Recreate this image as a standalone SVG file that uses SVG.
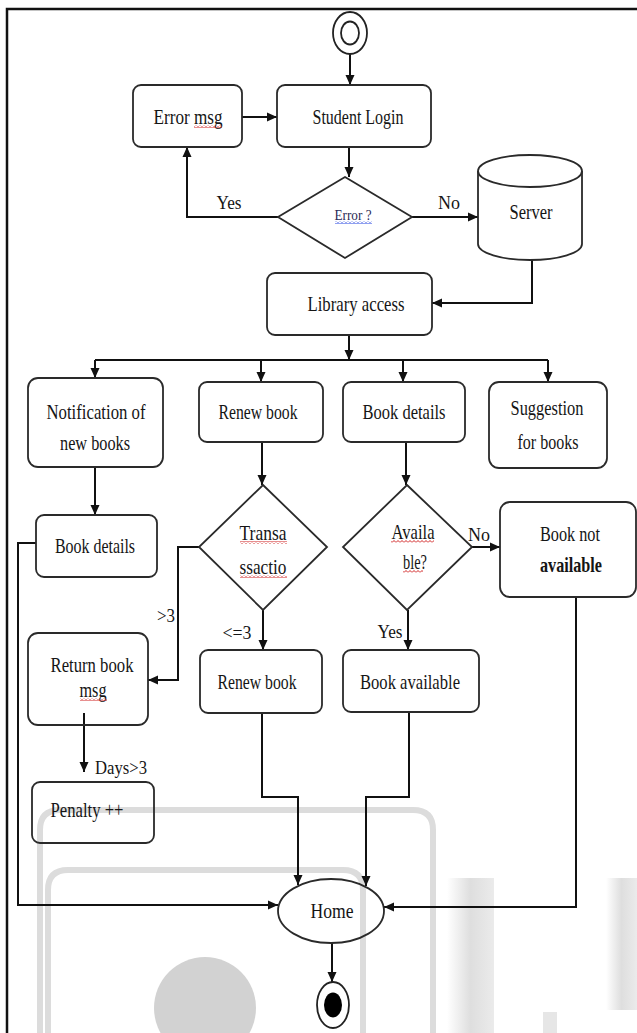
<svg xmlns="http://www.w3.org/2000/svg" width="637" height="1033" viewBox="0 0 637 1033">
<style>
.box{fill:none;stroke:#2a2a2a;stroke-width:1.8}
.c{fill:none;stroke:#111;stroke-width:2}
.ca{fill:none;stroke:#111;stroke-width:2;marker-end:url(#ah)}
.t{font-family:"Liberation Serif","Times New Roman",serif;font-size:22px;fill:#151515;text-anchor:middle}
.s{font-family:"Liberation Serif","Times New Roman",serif;font-size:19px;fill:#151515;text-anchor:middle}
.wm{fill:none;stroke:#dcdcdc;stroke-width:6}
</style>
<defs>
<marker id="ah" markerUnits="userSpaceOnUse" markerWidth="10" markerHeight="10" refX="10" refY="5" orient="auto">
<path d="M0,0.5 L10,5 L0,9.5 z" fill="#111"/>
</marker>
<pattern id="sqr" width="4" height="3" patternUnits="userSpaceOnUse">
<path d="M0,2.5 L2,0.5 L4,2.5" fill="none" stroke="#d02020" stroke-width="1"/>
</pattern>
<pattern id="sqb" width="4" height="3" patternUnits="userSpaceOnUse">
<path d="M0,2.5 L2,0.5 L4,2.5" fill="none" stroke="#2040e0" stroke-width="1"/>
</pattern>
<linearGradient id="gv" x1="0" y1="0" x2="1" y2="0">
<stop offset="0" stop-color="#ffffff"/>
<stop offset="0.5" stop-color="#dedede"/>
<stop offset="1" stop-color="#ebebeb"/>
</linearGradient>
</defs>
<rect width="637" height="1033" fill="#fff"/>
<g id="watermark">
<path class="wm" d="M40,1033 V830 Q40,810 60,810 H413 Q433,810 433,830 V1033"/>
<path class="wm" d="M48,1033 V890 Q48,870 68,870 H343 Q363,870 363,890 V1033"/>
<circle cx="205" cy="1008" r="51" fill="#d2d2d2"/>
<rect x="447" y="878" width="47" height="155" fill="url(#gv)"/>
<rect x="606" y="878" width="31" height="132" fill="url(#gv)"/>
<rect x="543" y="1012" width="14" height="21" fill="#e6e6e6"/>
</g>
<g id="frame">
<path d="M7,1033 V9 H637" fill="none" stroke="#111" stroke-width="2.5"/>
</g>
<g id="connectors">
<path class="ca" d="M350,54 V85"/>
<path class="ca" d="M242,117 H277"/>
<path class="ca" d="M349,147 V177"/>
<path class="ca" d="M278,217 H187 V147"/>
<path class="ca" d="M412,217 H478"/>
<path class="ca" d="M532,260 V303 H432"/>
<path class="ca" d="M349,335 V360"/>
<path class="c" d="M95,360 H548"/>
<path class="ca" d="M95,360 V378"/>
<path class="ca" d="M261,360 V382"/>
<path class="ca" d="M403,360 V382"/>
<path class="ca" d="M548,360 V382"/>
<path class="ca" d="M95,467 V515"/>
<path class="ca" d="M262,442 V485"/>
<path class="ca" d="M406,442 V485"/>
<path class="ca" d="M199,547 H178 V680 H148"/>
<path class="ca" d="M263,610 V650"/>
<path class="ca" d="M84,713 V772"/>
<path class="ca" d="M472,547 H500"/>
<path class="ca" d="M408,610 V650"/>
<path class="ca" d="M36,543 H18 V905 H278"/>
<path class="ca" d="M262,713 V797 H298 V885"/>
<path class="ca" d="M409,712 V797 H366 V886"/>
<path class="ca" d="M576,597 V907 H384"/>
<path class="ca" d="M332,943 V982"/>
<text class="s" x="229" y="209" textLength="25" lengthAdjust="spacingAndGlyphs">Yes</text>
<text class="s" x="449" y="209" textLength="22" lengthAdjust="spacingAndGlyphs">No</text>
<text class="s" x="166" y="622" textLength="18" lengthAdjust="spacingAndGlyphs">&gt;3</text>
<text class="s" x="237" y="639" textLength="29" lengthAdjust="spacingAndGlyphs">&lt;=3</text>
<text class="s" x="121" y="774" textLength="52" lengthAdjust="spacingAndGlyphs">Days&gt;3</text>
<text class="s" x="390" y="638" textLength="25" lengthAdjust="spacingAndGlyphs">Yes</text>
<text class="s" x="479" y="541" textLength="22" lengthAdjust="spacingAndGlyphs">No</text>
</g>
<g id="start">
<ellipse cx="350" cy="33" rx="17" ry="21" fill="#fff" stroke="#222" stroke-width="1.8"/>
<ellipse cx="350" cy="33" rx="9" ry="11.5" fill="none" stroke="#222" stroke-width="1.8"/>
</g>
<g id="errmsg">
<rect class="box" x="133" y="85" width="109" height="62" rx="8"/>
<text class="t" x="188" y="124" textLength="69" lengthAdjust="spacingAndGlyphs">Error msg</text>
<rect x="194" y="125" width="28" height="3" fill="url(#sqr)"/>
</g>
<g id="login">
<rect class="box" x="277" y="85" width="154" height="62" rx="8"/>
<text class="t" x="358" y="124" textLength="91" lengthAdjust="spacingAndGlyphs">Student Login</text>
</g>
<g id="errdec">
<path class="box" d="M345,177 L412,217 L345,258 L278,217 Z"/>
<text x="353" y="220" font-family="Liberation Serif, serif" font-size="14" fill="#2a2a55" text-anchor="middle" textLength="37" lengthAdjust="spacingAndGlyphs">Error ?</text>
<rect x="335" y="221" width="37" height="3" fill="url(#sqb)"/>
</g>
<g id="server">
<path class="box" d="M478,171 A52,16 0 0,1 582,171 V244 A52,16 0 0,1 478,244 Z"/>
<path class="box" d="M478,171 A52,16 0 0,0 582,171"/>
<text class="t" x="531" y="219" textLength="43" lengthAdjust="spacingAndGlyphs">Server</text>
</g>
<g id="library">
<rect class="box" x="267" y="273" width="165" height="62" rx="8"/>
<text class="t" x="356" y="311" textLength="97" lengthAdjust="spacingAndGlyphs">Library access</text>
</g>
<g id="notif">
<rect class="box" x="28" y="378" width="135" height="89" rx="10"/>
<text class="t" x="96" y="419" textLength="99" lengthAdjust="spacingAndGlyphs">Notification of</text>
<text class="t" x="95" y="450" textLength="70" lengthAdjust="spacingAndGlyphs">new books</text>
</g>
<g id="renew1">
<rect class="box" x="199" y="382" width="124" height="60" rx="8"/>
<text class="t" x="258" y="419" textLength="79" lengthAdjust="spacingAndGlyphs">Renew book</text>
</g>
<g id="details1">
<rect class="box" x="343" y="382" width="122" height="60" rx="8"/>
<text class="t" x="404" y="419" textLength="83" lengthAdjust="spacingAndGlyphs">Book details</text>
</g>
<g id="suggest">
<rect class="box" x="489" y="382" width="118" height="86" rx="10"/>
<text class="t" x="547" y="415" textLength="73" lengthAdjust="spacingAndGlyphs">Suggestion</text>
<text class="t" x="548" y="449" textLength="61" lengthAdjust="spacingAndGlyphs">for books</text>
</g>
<g id="details2">
<rect class="box" x="36" y="515" width="121" height="62" rx="8"/>
<text class="t" x="95" y="553" textLength="80" lengthAdjust="spacingAndGlyphs">Book details</text>
</g>
<g id="trans">
<path class="box" d="M263,485 L327,547 L263,610 L199,547 Z"/>
<text class="t" x="263" y="540" textLength="47" lengthAdjust="spacingAndGlyphs">Transa</text>
<rect x="240" y="541" width="47" height="3" fill="url(#sqr)"/>
<text class="t" x="263" y="574" textLength="47" lengthAdjust="spacingAndGlyphs">ssactio</text>
<rect x="240" y="575" width="47" height="3" fill="url(#sqr)"/>
</g>
<g id="avail">
<path class="box" d="M407,485 L472,547 L407,610 L343,547 Z"/>
<text class="t" x="413" y="539" textLength="43" lengthAdjust="spacingAndGlyphs">Availa</text>
<rect x="391" y="540" width="43" height="3" fill="url(#sqr)"/>
<text class="t" x="415" y="569" textLength="24" lengthAdjust="spacingAndGlyphs">ble?</text>
<rect x="403" y="570" width="20" height="3" fill="url(#sqr)"/>
</g>
<g id="notavail">
<rect class="box" x="500" y="502" width="136" height="95" rx="10"/>
<text class="t" x="570" y="541" textLength="60" lengthAdjust="spacingAndGlyphs">Book not</text>
<text class="t" x="571" y="572" font-weight="bold" textLength="62" lengthAdjust="spacingAndGlyphs">available</text>
</g>
<g id="returnmsg">
<rect class="box" x="28" y="633" width="120" height="92" rx="10"/>
<text class="t" x="92" y="672" textLength="83" lengthAdjust="spacingAndGlyphs">Return book</text>
<text class="t" x="93" y="697" textLength="27" lengthAdjust="spacingAndGlyphs">msg</text>
<rect x="80" y="698" width="27" height="3" fill="url(#sqr)"/>
</g>
<g id="renew2">
<rect class="box" x="200" y="650" width="122" height="63" rx="8"/>
<text class="t" x="257" y="689" textLength="79" lengthAdjust="spacingAndGlyphs">Renew book</text>
</g>
<g id="bookavail">
<rect class="box" x="343" y="650" width="136" height="62" rx="8"/>
<text class="t" x="410" y="689" textLength="100" lengthAdjust="spacingAndGlyphs">Book available</text>
</g>
<g id="penalty">
<rect class="box" x="32" y="782" width="122" height="61" rx="8"/>
<text class="t" x="87" y="817" textLength="73" lengthAdjust="spacingAndGlyphs">Penalty ++</text>
</g>
<g id="home">
<ellipse class="box" cx="331" cy="911" rx="53" ry="32"/>
<text class="t" x="332" y="918" textLength="43" lengthAdjust="spacingAndGlyphs">Home</text>
</g>
<g id="end">
<ellipse cx="333" cy="1005" rx="16" ry="23" fill="#fff" stroke="#222" stroke-width="1.8"/>
<ellipse cx="333" cy="1005" rx="9" ry="12.5" fill="#000"/>
</g>
</svg>
